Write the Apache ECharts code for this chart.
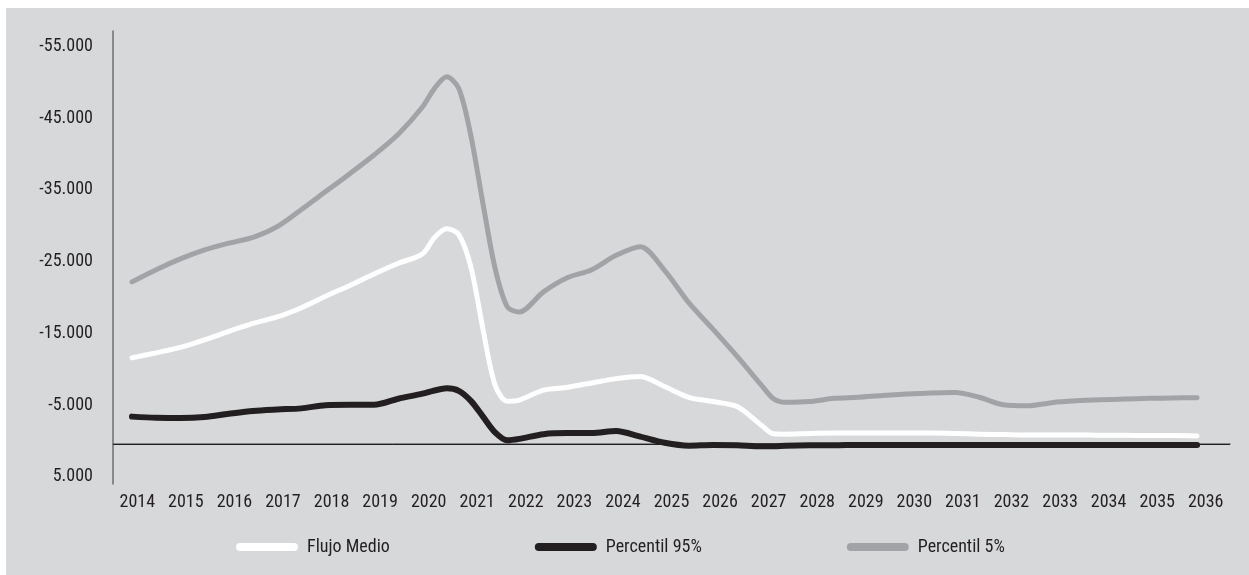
<!DOCTYPE html>
<html>
<head>
<meta charset="utf-8">
<script src="https://cdn.jsdelivr.net/npm/echarts@6/dist/echarts.min.js"></script>
<style>
  html, body { margin: 0; padding: 0; background: #ffffff; }
  #chart { position: absolute; left: 6px; top: 8px; width: 1243px; height: 567px; background: #d7d8da; }
</style>
</head>
<body>
<div id="chart"></div>
<script>
  // etiquetas del eje x
  var yearLabels = ['2014', '2015', '2016', '2017', '2018', '2019', '2020', '2021', '2022', '2023', '2024',
    '2025', '2026', '2027', '2028', '2029', '2030', '2031', '2032', '2033', '2034', '2035', '2036']

  // posiciones temporales de los puntos
  var xs = [2014, 2014.5, 2015, 2015.5, 2016, 2016.5, 2017, 2017.5, 2018, 2018.5, 2019, 2019.5,
    2020, 2020.25, 2020.5, 2020.75, 2021, 2021.25, 2021.5, 2021.75, 2022, 2022.5, 2023, 2023.5,
    2024, 2024.5, 2025, 2025.5, 2026, 2026.5, 2027, 2027.25, 2027.5, 2028, 2028.5, 2029, 2029.5,
    2030, 2030.5, 2031, 2031.5, 2032, 2032.5, 2033, 2033.5, 2034, 2034.5, 2035, 2035.5, 2036]

  var flujoMedio = [-12000, -12700, -13450, -14500, -15700, -16800, -17700, -19000, -20600, -22100, -23700, -25200,
    -26500, -28800, -30000, -29200, -24700, -16000, -8200, -5950, -6100, -7500, -7900, -8500,
    -9100, -9400, -8000, -6500, -5900, -5200, -2600, -1400, -1350, -1450, -1500, -1500, -1500,
    -1500, -1500, -1450, -1350, -1300, -1250, -1250, -1250, -1200, -1200, -1150, -1150, -1100]

  var percentil95 = [-3800, -3650, -3600, -3750, -4200, -4600, -4800, -4950, -5400, -5450, -5450, -6300,
    -7000, -7450, -7750, -7400, -6000, -3800, -1600, -500, -700, -1350, -1500, -1500,
    -1800, -1000, -150, 250, 150, 200, 350, 350, 250, 200, 200, 150, 150,
    150, 150, 150, 150, 150, 150, 150, 150, 150, 150, 150, 150, 150]

  var percentil5 = [-22600, -24300, -25800, -27050, -28000, -28800, -30300, -32700, -35200, -37700, -40300, -43200,
    -47000, -49600, -51200, -49600, -43000, -33500, -24500, -19150, -18400, -21200, -23200, -24300,
    -26300, -27500, -24200, -19700, -16000, -12200, -8200, -6300, -5800, -5900, -6350, -6500, -6750,
    -6950, -7100, -7150, -6500, -5450, -5300, -5750, -6000, -6150, -6250, -6350, -6400, -6450]

  var yTicks = [-55000, -45000, -35000, -25000, -15000, -5000, 5000]

  var font = "'Roboto Condensed', 'Liberation Sans Narrow', sans-serif"
  var textColor = '#231f20'

  function pairs(values) {
    return values.map(function (v, i) { return [xs[i], v] })
  }

  function fmt(v) {
    var s = String(Math.abs(v)).replace(/\B(?=(\d{3})+(?!\d))/g, '.')
    return (v < 0 ? '-' : '') + s
  }

  function lineSeries(name, values, color, width) {
    return {
      name: name,
      type: 'line',
      xAxisIndex: 1,
      data: pairs(values),
      smooth: 0.3,
      showSymbol: false,
      symbol: 'none',
      lineStyle: { color: color, width: width, cap: 'round', join: 'round' },
      itemStyle: { color: color }
    }
  }

  var chart = echarts.init(document.getElementById('chart'))
  chart.setOption({
    animation: false,
    textStyle: { fontFamily: font },
    grid: { left: 107, right: 19, top: 23, bottom: 91 },
    legend: {
      left: 230,
      top: 530,
      padding: 0,
      itemWidth: 62,
      itemHeight: 8,
      itemGap: 145,
      icon: 'path://M4,0 H58 A4,4 0 0 1 58,8 H4 A4,4 0 0 1 4,0 Z',
      textStyle: { fontFamily: font, fontSize: 18, color: textColor, padding: [0, 0, 0, 4] },
      data: ['Flujo Medio', 'Percentil 95%', 'Percentil 5%']
    },
    xAxis: [{
      type: 'category',
      data: yearLabels,
      boundaryGap: true,
      axisLine: { lineStyle: { color: '#6d6e71', width: 1.5 } },
      axisTick: { show: false },
      axisLabel: { fontFamily: font, fontSize: 18, color: textColor, margin: 9, interval: 0 },
      splitLine: { show: false }
    }, {
      type: 'value',
      min: 2013.608,
      max: 2036.68,
      show: false,
      splitLine: { show: false }
    }],
    yAxis: {
      type: 'value',
      inverse: true,
      min: -57600,
      max: 5600,
      axisLine: { show: true, lineStyle: { color: '#6d6e71', width: 1.5 } },
      axisTick: { show: false },
      splitLine: { show: false },
      axisLabel: {
        customValues: yTicks,
        formatter: fmt,
        fontFamily: font,
        fontSize: 18,
        color: textColor,
        margin: 20,
        verticalAlign: 'bottom',
        lineHeight: 6
      }
    },
    series: [
      {
        type: 'line',
        xAxisIndex: 1,
        data: [],
        z: 1,
        markLine: {
          silent: true,
          symbol: 'none',
          label: { show: false },
          lineStyle: { color: textColor, width: 1, type: 'solid' },
          data: [{ yAxis: 0 }]
        }
      },
      lineSeries('Percentil 5%', percentil5, '#a2a3a6', 5),
      lineSeries('Flujo Medio', flujoMedio, '#ffffff', 5),
      lineSeries('Percentil 95%', percentil95, '#231f20', 6)
    ]
  })
</script>
</body>
</html>
